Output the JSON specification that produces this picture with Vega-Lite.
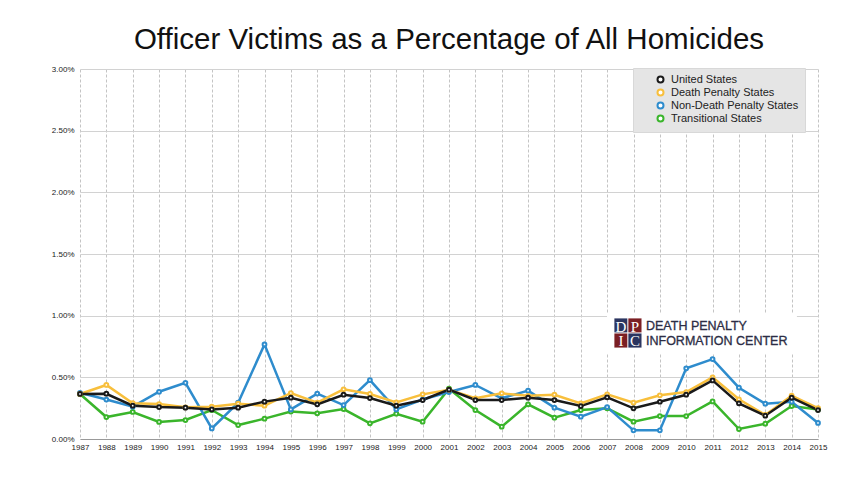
{
  "$schema": "https://vega.github.io/schema/vega-lite/v6.json",
  "width": 738,
  "height": 370,
  "autosize": {"type": "none"},
  "padding": {"left": 80, "top": 69, "right": 45, "bottom": 52},
  "background": "#ffffff",
  "title": {
    "text": "Officer Victims as a Percentage of All Homicides",
    "fontSize": 29.5,
    "font": "Liberation Sans",
    "fontWeight": "normal",
    "color": "#111111",
    "baseline": "alphabetic",
    "offset": -13,
    "anchor": "middle"
  },
  "resolve": {"axis": {"x": "independent", "y": "independent"}},
  "datasets": {
    "homicide": [
      {"year":1987,"series":"Transitional States","value":0.00365},
      {"year":1988,"series":"Transitional States","value":0.00178},
      {"year":1989,"series":"Transitional States","value":0.00219},
      {"year":1990,"series":"Transitional States","value":0.00138},
      {"year":1991,"series":"Transitional States","value":0.00154},
      {"year":1992,"series":"Transitional States","value":0.00235},
      {"year":1993,"series":"Transitional States","value":0.00113},
      {"year":1994,"series":"Transitional States","value":0.00165},
      {"year":1995,"series":"Transitional States","value":0.00222},
      {"year":1996,"series":"Transitional States","value":0.00208},
      {"year":1997,"series":"Transitional States","value":0.00243},
      {"year":1998,"series":"Transitional States","value":0.00127},
      {"year":1999,"series":"Transitional States","value":0.00205},
      {"year":2000,"series":"Transitional States","value":0.0014},
      {"year":2001,"series":"Transitional States","value":0.00408},
      {"year":2002,"series":"Transitional States","value":0.00235},
      {"year":2003,"series":"Transitional States","value":0.001},
      {"year":2004,"series":"Transitional States","value":0.00281},
      {"year":2005,"series":"Transitional States","value":0.00173},
      {"year":2006,"series":"Transitional States","value":0.00235},
      {"year":2007,"series":"Transitional States","value":0.00249},
      {"year":2008,"series":"Transitional States","value":0.0014},
      {"year":2009,"series":"Transitional States","value":0.00186},
      {"year":2010,"series":"Transitional States","value":0.00186},
      {"year":2011,"series":"Transitional States","value":0.00305},
      {"year":2012,"series":"Transitional States","value":0.00081},
      {"year":2013,"series":"Transitional States","value":0.00124},
      {"year":2014,"series":"Transitional States","value":0.00267},
      {"year":2015,"series":"Transitional States","value":0.0024},
      {"year":1987,"series":"Non-Death Penalty States","value":0.00375},
      {"year":1988,"series":"Non-Death Penalty States","value":0.0032},
      {"year":1989,"series":"Non-Death Penalty States","value":0.00262},
      {"year":1990,"series":"Non-Death Penalty States","value":0.00383},
      {"year":1991,"series":"Non-Death Penalty States","value":0.00456},
      {"year":1992,"series":"Non-Death Penalty States","value":0.00086},
      {"year":1993,"series":"Non-Death Penalty States","value":0.00294},
      {"year":1994,"series":"Non-Death Penalty States","value":0.00767},
      {"year":1995,"series":"Non-Death Penalty States","value":0.0024},
      {"year":1996,"series":"Non-Death Penalty States","value":0.00368},
      {"year":1997,"series":"Non-Death Penalty States","value":0.00275},
      {"year":1998,"series":"Non-Death Penalty States","value":0.00478},
      {"year":1999,"series":"Non-Death Penalty States","value":0.0024},
      {"year":2000,"series":"Non-Death Penalty States","value":0.0032},
      {"year":2001,"series":"Non-Death Penalty States","value":0.00381},
      {"year":2002,"series":"Non-Death Penalty States","value":0.00438},
      {"year":2003,"series":"Non-Death Penalty States","value":0.0033},
      {"year":2004,"series":"Non-Death Penalty States","value":0.00392},
      {"year":2005,"series":"Non-Death Penalty States","value":0.00254},
      {"year":2006,"series":"Non-Death Penalty States","value":0.00181},
      {"year":2007,"series":"Non-Death Penalty States","value":0.00259},
      {"year":2008,"series":"Non-Death Penalty States","value":0.0007},
      {"year":2009,"series":"Non-Death Penalty States","value":0.0007},
      {"year":2010,"series":"Non-Death Penalty States","value":0.00573},
      {"year":2011,"series":"Non-Death Penalty States","value":0.00648},
      {"year":2012,"series":"Non-Death Penalty States","value":0.00416},
      {"year":2013,"series":"Non-Death Penalty States","value":0.00286},
      {"year":2014,"series":"Non-Death Penalty States","value":0.00302},
      {"year":2015,"series":"Non-Death Penalty States","value":0.0013},
      {"year":1987,"series":"Death Penalty States","value":0.00365},
      {"year":1988,"series":"Death Penalty States","value":0.00438},
      {"year":1989,"series":"Death Penalty States","value":0.0029},
      {"year":1990,"series":"Death Penalty States","value":0.00283},
      {"year":1991,"series":"Death Penalty States","value":0.00257},
      {"year":1992,"series":"Death Penalty States","value":0.00262},
      {"year":1993,"series":"Death Penalty States","value":0.00286},
      {"year":1994,"series":"Death Penalty States","value":0.0027},
      {"year":1995,"series":"Death Penalty States","value":0.00373},
      {"year":1996,"series":"Death Penalty States","value":0.00295},
      {"year":1997,"series":"Death Penalty States","value":0.00403},
      {"year":1998,"series":"Death Penalty States","value":0.00365},
      {"year":1999,"series":"Death Penalty States","value":0.00297},
      {"year":2000,"series":"Death Penalty States","value":0.00362},
      {"year":2001,"series":"Death Penalty States","value":0.004},
      {"year":2002,"series":"Death Penalty States","value":0.0033},
      {"year":2003,"series":"Death Penalty States","value":0.0037},
      {"year":2004,"series":"Death Penalty States","value":0.0035},
      {"year":2005,"series":"Death Penalty States","value":0.00359},
      {"year":2006,"series":"Death Penalty States","value":0.00289},
      {"year":2007,"series":"Death Penalty States","value":0.00362},
      {"year":2008,"series":"Death Penalty States","value":0.00294},
      {"year":2009,"series":"Death Penalty States","value":0.00354},
      {"year":2010,"series":"Death Penalty States","value":0.00381},
      {"year":2011,"series":"Death Penalty States","value":0.005},
      {"year":2012,"series":"Death Penalty States","value":0.00322},
      {"year":2013,"series":"Death Penalty States","value":0.00195},
      {"year":2014,"series":"Death Penalty States","value":0.00351},
      {"year":2015,"series":"Death Penalty States","value":0.00251},
      {"year":1987,"series":"United States","value":0.00365},
      {"year":1988,"series":"United States","value":0.00367},
      {"year":1989,"series":"United States","value":0.0027},
      {"year":1990,"series":"United States","value":0.00259},
      {"year":1991,"series":"United States","value":0.00254},
      {"year":1992,"series":"United States","value":0.0024},
      {"year":1993,"series":"United States","value":0.00254},
      {"year":1994,"series":"United States","value":0.00303},
      {"year":1995,"series":"United States","value":0.00335},
      {"year":1996,"series":"United States","value":0.00281},
      {"year":1997,"series":"United States","value":0.00359},
      {"year":1998,"series":"United States","value":0.00332},
      {"year":1999,"series":"United States","value":0.0027},
      {"year":2000,"series":"United States","value":0.00316},
      {"year":2001,"series":"United States","value":0.004},
      {"year":2002,"series":"United States","value":0.00316},
      {"year":2003,"series":"United States","value":0.00316},
      {"year":2004,"series":"United States","value":0.00335},
      {"year":2005,"series":"United States","value":0.00316},
      {"year":2006,"series":"United States","value":0.00267},
      {"year":2007,"series":"United States","value":0.00338},
      {"year":2008,"series":"United States","value":0.00249},
      {"year":2009,"series":"United States","value":0.00302},
      {"year":2010,"series":"United States","value":0.00359},
      {"year":2011,"series":"United States","value":0.00475},
      {"year":2012,"series":"United States","value":0.00289},
      {"year":2013,"series":"United States","value":0.00189},
      {"year":2014,"series":"United States","value":0.00335},
      {"year":2015,"series":"United States","value":0.00235}
    ],
    "logo": [{"name": "DPIC"}]
  },
  "layer": [
    {
      "data": {"name": "homicide"},
      "mark": {"type": "line", "strokeWidth": 2.5, "point": {"filled": false, "fill": "#ffffff", "size": 14, "strokeWidth": 2}},
      "encoding": {
        "x": {
          "field": "year",
          "type": "quantitative",
          "scale": {"domain": [1987, 2015], "nice": false, "zero": false},
          "axis": {
            "title": null,
            "values": [1987,1988,1989,1990,1991,1992,1993,1994,1995,1996,1997,1998,1999,2000,2001,2002,2003,2004,2005,2006,2007,2008,2009,2010,2011,2012,2013,2014,2015],
            "format": "d",
            "labelFlush": false,
            "labelOverlap": false,
            "grid": true,
            "gridDash": [3, 2],
            "gridColor": "#c4c4c4",
            "domain": true,
            "domainColor": "#999999",
            "ticks": false,
            "labelFontSize": 8,
            "labelColor": "#222222",
            "labelPadding": 4
          }
        },
        "y": {
          "field": "value",
          "type": "quantitative",
          "scale": {"domain": [0, 0.03], "nice": false},
          "axis": {
            "title": null,
            "values": [0, 0.005, 0.01, 0.015, 0.02, 0.025, 0.03],
            "format": ".2%",
            "grid": true,
            "gridColor": "#d2d2d2",
            "domain": false,
            "ticks": false,
            "labelFontSize": 8,
            "labelColor": "#222222",
            "labelPadding": 6
          }
        },
        "color": {
          "field": "series",
          "type": "nominal",
          "scale": {
            "domain": ["United States", "Death Penalty States", "Non-Death Penalty States", "Transitional States"],
            "range": ["#1a1a1a", "#f8bf3c", "#2e8ccd", "#3ab52b"]
          },
          "legend": {
            "title": null,
            "orient": "none",
            "legendX": 553,
            "legendY": -1,
            "fillColor": "#e5e5e5",
            "strokeColor": "#d8d8d8",
            "padding": 6,
            "symbolOffset": 16,
            "labelFontSize": 11,
            "labelColor": "#222222",
            "labelOffset": 5,
            "rowPadding": -2,
            "symbolType": "circle",
            "symbolSize": 36,
            "symbolStrokeWidth": 2,
            "symbolFillColor": "transparent"
          }
        },
        "order": {"field": "year"}
      }
    },
    {
      "data": {"name": "logo"},
      "mark": {"type": "rect", "fill": "#ffffff"},
      "encoding": {
        "x": {"datum": 2006.995, "type": "quantitative", "axis": null},
        "x2": {"datum": 2014.2},
        "y": {"datum": 0.01022, "type": "quantitative", "axis": null},
        "y2": {"datum": 0.00697}
      }
    },
    {
      "data": {"name": "logo"},
      "mark": {"type": "rect", "fill": "#2b3560", "stroke": "#ffffff", "strokeWidth": 0.8},
      "encoding": {
        "x": {"datum": 2007.26, "type": "quantitative", "axis": null},
        "x2": {"datum": 2007.79},
        "y": {"datum": 0.00981, "type": "quantitative", "axis": null},
        "y2": {"datum": 0.00859}
      }
    },
    {
      "data": {"name": "logo"},
      "mark": {"type": "rect", "fill": "#7b1f24", "stroke": "#ffffff", "strokeWidth": 0.8},
      "encoding": {
        "x": {"datum": 2007.79, "type": "quantitative", "axis": null},
        "x2": {"datum": 2008.32},
        "y": {"datum": 0.00981, "type": "quantitative", "axis": null},
        "y2": {"datum": 0.00859}
      }
    },
    {
      "data": {"name": "logo"},
      "mark": {"type": "rect", "fill": "#7b1f24", "stroke": "#ffffff", "strokeWidth": 0.8},
      "encoding": {
        "x": {"datum": 2007.26, "type": "quantitative", "axis": null},
        "x2": {"datum": 2007.79},
        "y": {"datum": 0.00859, "type": "quantitative", "axis": null},
        "y2": {"datum": 0.00738}
      }
    },
    {
      "data": {"name": "logo"},
      "mark": {"type": "rect", "fill": "#2b3560", "stroke": "#ffffff", "strokeWidth": 0.8},
      "encoding": {
        "x": {"datum": 2007.79, "type": "quantitative", "axis": null},
        "x2": {"datum": 2008.32},
        "y": {"datum": 0.00859, "type": "quantitative", "axis": null},
        "y2": {"datum": 0.00738}
      }
    },
    {
      "data": {"name": "logo"},
      "mark": {"type": "text", "text": "D", "font": "Liberation Serif", "fontSize": 15, "color": "#ffffff", "align": "center", "baseline": "middle", "dy": 1},
      "encoding": {"x": {"datum": 2007.525, "type": "quantitative", "axis": null}, "y": {"datum": 0.0092, "type": "quantitative", "axis": null}}
    },
    {
      "data": {"name": "logo"},
      "mark": {"type": "text", "text": "P", "font": "Liberation Serif", "fontSize": 15, "color": "#ffffff", "align": "center", "baseline": "middle", "dy": 1},
      "encoding": {"x": {"datum": 2008.057, "type": "quantitative", "axis": null}, "y": {"datum": 0.0092, "type": "quantitative", "axis": null}}
    },
    {
      "data": {"name": "logo"},
      "mark": {"type": "text", "text": "I", "font": "Liberation Serif", "fontSize": 15, "color": "#ffffff", "align": "center", "baseline": "middle", "dy": 1},
      "encoding": {"x": {"datum": 2007.525, "type": "quantitative", "axis": null}, "y": {"datum": 0.00799, "type": "quantitative", "axis": null}}
    },
    {
      "data": {"name": "logo"},
      "mark": {"type": "text", "text": "C", "font": "Liberation Serif", "fontSize": 15, "color": "#ffffff", "align": "center", "baseline": "middle", "dy": 1},
      "encoding": {"x": {"datum": 2008.057, "type": "quantitative", "axis": null}, "y": {"datum": 0.00799, "type": "quantitative", "axis": null}}
    },
    {
      "data": {"name": "logo"},
      "mark": {"type": "text", "text": "DEATH PENALTY", "font": "Liberation Sans", "fontSize": 12.5, "color": "#2c2d45", "align": "left", "baseline": "alphabetic", "stroke": "#2c2d45", "strokeWidth": 0.3},
      "encoding": {"x": {"datum": 2008.474, "type": "quantitative", "axis": null}, "y": {"datum": 0.00884, "type": "quantitative", "axis": null}}
    },
    {
      "data": {"name": "logo"},
      "mark": {"type": "text", "text": "INFORMATION CENTER", "font": "Liberation Sans", "fontSize": 12.5, "color": "#2c2d45", "align": "left", "baseline": "alphabetic", "stroke": "#2c2d45", "strokeWidth": 0.3},
      "encoding": {"x": {"datum": 2008.474, "type": "quantitative", "axis": null}, "y": {"datum": 0.00766, "type": "quantitative", "axis": null}}
    }
  ],
  "config": {
    "font": "Liberation Sans",
    "view": {"stroke": null}
  }
}
